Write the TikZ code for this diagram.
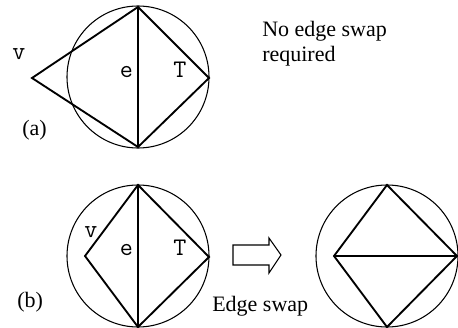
\documentclass[tikz,border=0pt]{standalone}
\usepackage{fontspec}
\setmainfont{Liberation Serif}
\begin{document}
\begin{tikzpicture}[x=0.75pt,y=-0.75pt,
  edge/.style={line width=1.4pt,line join=miter},
  circ/.style={line width=0.8pt},
  lbl/.style={font=\ttfamily\fontsize{19}{21}\selectfont,anchor=base,inner sep=0pt},
  txt/.style={font=\fontsize{16.5}{18.75}\selectfont,anchor=base west,inner sep=0pt,align=left}]
\useasboundingbox (0,0) rectangle (458,328);
% (a)
\coordinate (ac) at (138,77);
\coordinate (at) at (138,7);
\coordinate (ab) at (138,147);
\coordinate (ar) at (209,78);
\coordinate (av) at (32,78);
\draw[circ] (ac) circle[radius=71];
\draw[edge] (at) -- (ab);
\draw[edge] (at) -- (ar) -- (ab) -- (av) -- cycle;
\node[lbl] (va) at (19,60) {v};
\node[lbl] (ea) at (126.5,78) {e};
\node[lbl] (ta) at (180,78) {T};
\node[txt] (la) at (22,136) {(a)};
\node[txt] (noswap) at (262,62) {No edge swap\\required};
% (b) left
\coordinate (bc) at (138,256);
\coordinate (bt) at (138,185);
\coordinate (bb) at (138,327);
\coordinate (br) at (209,257);
\coordinate (bv) at (85,256);
\draw[circ] (bc) circle[radius=71];
\draw[edge] (bt) -- (bb);
\draw[edge] (bt) -- (br) -- (bb) -- (bv) -- cycle;
\node[lbl] (vb) at (91,238) {v};
\node[lbl] (eb) at (126.5,256) {e};
\node[lbl] (tb) at (180,256) {T};
\node[txt] (lb) at (17,308) {(b)};
% arrow
\draw[line width=0.8pt,line join=miter] (233,245) -- (269,245) -- (269,238) -- (281,255) -- (269,273) -- (269,265) -- (233,265) -- cycle;
\node[txt] (swap) at (212,312) {Edge swap};
% (b) right
\coordinate (cc) at (387,256);
\coordinate (ct) at (387,185);
\coordinate (cb) at (387,327);
\coordinate (cr) at (457,256);
\coordinate (cl) at (334,256);
\draw[circ] (cc) circle[radius=71];
\draw[edge] (cl) -- (cr);
\draw[edge] (ct) -- (cr) -- (cb) -- (cl) -- cycle;
\end{tikzpicture}
\end{document}
